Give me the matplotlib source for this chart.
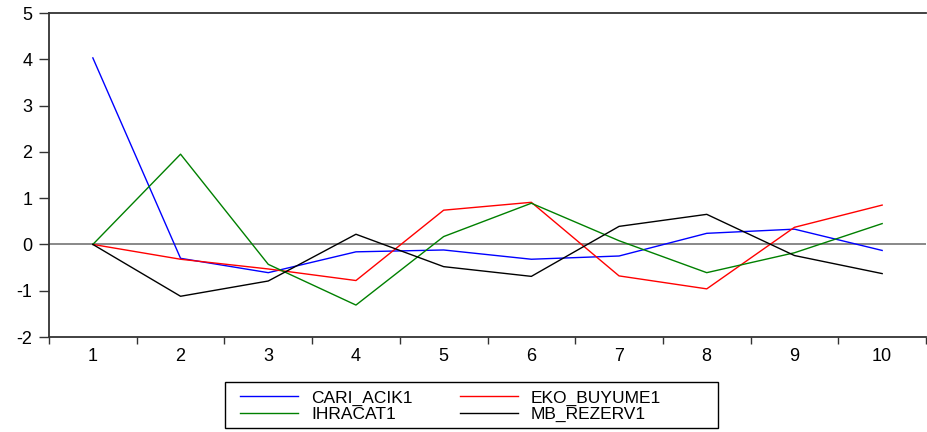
import matplotlib
matplotlib.use("Agg")
import matplotlib.pyplot as plt
from matplotlib.patches import Rectangle
import numpy as np

plt.rcParams['font.family'] = ['Liberation Sans', 'DejaVu Sans']
plt.rcParams['axes.unicode_minus'] = False

periods = [1, 2, 3, 4, 5, 6, 7, 8, 9, 10]
cari_acik = [4.03, -0.30, -0.61, -0.16, -0.12, -0.32, -0.25, 0.24, 0.33, -0.13]
eko_buyume = [0.0, -0.32, -0.53, -0.78, 0.74, 0.91, -0.68, -0.96, 0.37, 0.85]
ihracat = [0.0, 1.95, -0.43, -1.31, 0.17, 0.89, 0.08, -0.61, -0.18, 0.45]
mb_rezerv = [0.0, -1.12, -0.79, 0.22, -0.48, -0.69, 0.39, 0.65, -0.24, -0.63]

W, H = 927, 432
fig = plt.figure(figsize=(W / 100, H / 100), dpi=100)
ax = fig.add_axes([49 / W, 1 - 337 / H, 877 / W, 324 / H])

ax.axhline(0, color='#888888', lw=1.4, zorder=1)
l1, = ax.plot(periods, cari_acik, color='#0000ff', lw=1.0, label='CARI_ACIK1')
l2, = ax.plot(periods, eko_buyume, color='#ff0000', lw=1.0, label='EKO_BUYUME1')
l3, = ax.plot(periods, ihracat, color='#008000', lw=1.0, label='IHRACAT1')
l4, = ax.plot(periods, mb_rezerv, color='#000000', lw=1.0, label='MB_REZERV1')

ax.set_xlim(0.5, 10.5)
ax.set_ylim(-2, 5)
ax.set_yticks(range(-2, 6))
ax.set_xticks(periods)
ax.set_xticks(np.arange(0.5, 11, 1), minor=True)
ax.tick_params(axis='x', which='major', length=0, pad=8, labelsize=13)
ax.tick_params(axis='x', which='minor', length=5, width=1, color='#333333', direction='out')
ax.tick_params(axis='y', length=7, width=1, color='#333333', direction='out', pad=5, labelsize=13)

for s in ['left', 'top', 'bottom']:
    ax.spines[s].set_color('#333333')
    ax.spines[s].set_linewidth(1.3)
ax.spines['right'].set_visible(False)

# legend box drawn separately, two columns placed as in the reference
fig.patches.append(Rectangle((225 / W, 1 - 428 / H), 493 / W, 46 / H,
                             transform=fig.transFigure, fill=False,
                             edgecolor='black', lw=1.0))
fs = 12.5
opts = dict(loc='center left', fontsize=fs, frameon=False, handlelength=58 / (fs * 100 / 72),
            handletextpad=13 / (fs * 100 / 72), labelspacing=0.05, borderpad=0, borderaxespad=0)
leg1 = fig.legend([l1, l3], ['CARI_ACIK1', 'IHRACAT1'], bbox_to_anchor=(240 / W, 1 - 406 / H), **opts)
leg2 = fig.legend([l2, l4], ['EKO_BUYUME1', 'MB_REZERV1'], bbox_to_anchor=(460 / W, 1 - 406 / H), **opts)

fig.savefig('out.png', dpi=100)
